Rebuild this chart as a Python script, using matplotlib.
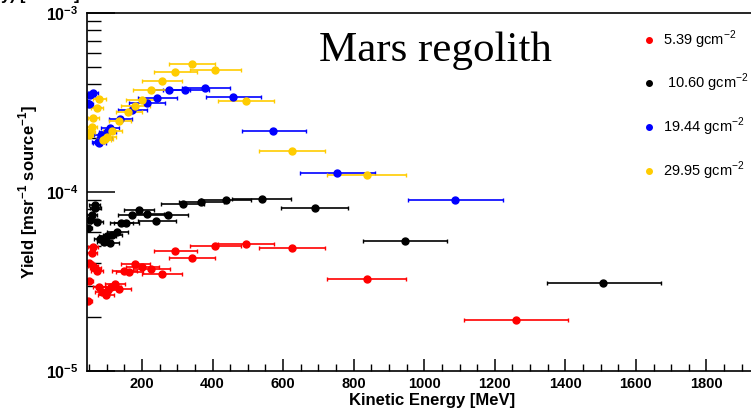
import numpy as np
import matplotlib
matplotlib.use("Agg")
import matplotlib.pyplot as plt
from matplotlib.ticker import MultipleLocator, FixedLocator, LogLocator, NullFormatter

plt.rcParams['font.family'] = ['Liberation Sans', 'DejaVu Sans']

# 5.39 g/cm2 (red)
e_red = [1259, 838, 625, 494, 407, 342, 293, 257, 225, 200, 180, 163, 149, 135,
         123, 112, 104, 97, 86, 78, 72, 67, 61, 61, 58, 50, 50, 47]
y_red = [1.93e-5, 3.27e-5, 4.87e-5, 5.13e-5, 4.99e-5, 4.28e-5, 4.68e-5, 3.48e-5,
         3.71e-5, 3.81e-5, 3.96e-5, 3.57e-5, 3.62e-5, 2.87e-5, 3.06e-5, 2.94e-5,
         2.85e-5, 2.66e-5, 2.76e-5, 2.94e-5, 3.62e-5, 3.76e-5, 3.86e-5, 4.93e-5,
         4.56e-5, 4.00e-5, 3.18e-5, 2.46e-5]
lo_red = [147, 114, 94, 79, 71, 65, 59, 57, 50, 45, 40, 38, 33, 30,
          28, 25, 23, 22, 19, 17, 16, 15, 14, 14, 13, 11, 11, 10]
hi_red = [148, 110, 93, 80, 73, 65, 63, 56, 54, 48, 44, 40, 37, 33,
          30, 28, 25, 24, 21, 19, 18, 16, 15, 15, 14, 12, 12, 11]

# 10.60 g/cm2 (black)
e_blk = [1508, 946, 690, 540, 438, 367, 315, 273, 240, 213, 190, 171, 155, 141,
         129, 115, 109, 101, 92, 81, 72, 66, 67, 58, 53, 47]
y_blk = [3.10e-5, 5.32e-5, 8.14e-5, 9.14e-5, 9.02e-5, 8.79e-5, 8.57e-5, 7.44e-5,
         6.89e-5, 7.58e-5, 7.94e-5, 7.44e-5, 6.71e-5, 6.71e-5, 5.98e-5, 5.75e-5,
         5.19e-5, 5.65e-5, 5.26e-5, 5.46e-5, 6.79e-5, 8.45e-5, 8.13e-5, 7.44e-5,
         6.95e-5, 6.30e-5]
lo_blk = [161, 120, 95, 85, 72, 63, 61, 57, 52, 48, 42, 38, 34, 31,
          29, 26, 24, 22, 20, 18, 16, 15, 15, 13, 12, 10]
hi_blk = [162, 118, 94, 82, 72, 65, 62, 58, 55, 50, 45, 40, 37, 33,
          31, 28, 26, 24, 22, 19, 17, 16, 16, 14, 13, 11]

# 19.44 g/cm2 (blue)
e_blu = [1087, 752, 571, 458, 379, 322, 277, 242, 214, 172, 138, 109, 100, 92,
         84, 78, 75, 61, 53, 50, 45]
y_blu = [9.02e-5, 1.28e-4, 2.19e-4, 3.40e-4, 3.81e-4, 3.71e-4, 3.71e-4, 3.35e-4,
         3.14e-4, 2.87e-4, 2.56e-4, 2.28e-4, 2.16e-4, 2.00e-4, 2.09e-4, 1.88e-4,
         1.90e-4, 3.57e-4, 3.48e-4, 3.10e-4, 3.14e-4]
lo_blu = [133, 104, 87, 77, 66, 63, 58, 53, 50, 40, 32, 25, 23, 21,
          19, 17, 17, 14, 12, 11, 10]
hi_blu = [136, 108, 94, 79, 70, 67, 60, 56, 52, 42, 34, 27, 25, 23,
          21, 19, 18, 15, 13, 12, 11]

# 29.95 g/cm2 (yellow)
e_yel = [838, 625, 494, 407, 342, 293, 257, 225, 200, 180, 161, 135, 115, 100,
         95, 90, 78, 72, 62, 58, 53, 50]
y_yel = [1.245e-4, 1.70e-4, 3.23e-4, 4.80e-4, 5.19e-4, 4.68e-4, 4.17e-4, 3.71e-4,
         3.27e-4, 3.02e-4, 2.80e-4, 2.49e-4, 2.19e-4, 2.02e-4, 1.98e-4, 1.95e-4,
         3.31e-4, 2.95e-4, 2.59e-4, 2.31e-4, 2.16e-4, 2.09e-4]
lo_yel = [114, 94, 79, 71, 65, 59, 57, 50, 45, 40, 36, 30, 26, 23,
          21, 20, 17, 16, 14, 13, 12, 11]
hi_yel = [110, 93, 80, 73, 65, 63, 56, 54, 48, 44, 39, 33, 28, 25,
          23, 22, 19, 18, 15, 14, 13, 12]

labels = ['5.39 gcm$^{\\mathdefault{-2}}$', ' 10.60 gcm$^{\\mathdefault{-2}}$',
          '19.44 gcm$^{\\mathdefault{-2}}$', '29.95 gcm$^{\\mathdefault{-2}}$']
colors = ['#ff0000', '#000000', '#0000ff', '#ffcc00']
x_ticks = [200, 400, 600, 800, 1000, 1200, 1400, 1600, 1800]

W, H = 751, 415
fig = plt.figure(figsize=(W / 100, H / 100), dpi=100)
ax = fig.add_axes([87 / W, 1 - 371 / H, (777 - 87) / W, (371 - 13) / H])

series = [(e_red, y_red, lo_red, hi_red), (e_blk, y_blk, lo_blk, hi_blk),
          (e_blu, y_blu, lo_blu, hi_blu), (e_yel, y_yel, lo_yel, hi_yel)]
for (e, y, lo, hi), c in zip(series, colors):
    ax.errorbar(e, y, xerr=[lo, hi], fmt='o', color=c, ms=5, elinewidth=1.2,
                capsize=1.5, capthick=1)

ax.set_yscale('log')
ax.set_xlim(44, 2000)
ax.set_ylim(1e-5, 1e-3)
ax.xaxis.set_major_locator(FixedLocator(x_ticks))
ax.xaxis.set_minor_locator(MultipleLocator(50))
ax.yaxis.set_major_locator(LogLocator(base=10))
ax.yaxis.set_minor_locator(LogLocator(base=10, subs=np.arange(2, 10)))
ax.yaxis.set_minor_formatter(NullFormatter())

ax.tick_params(axis='x', which='major', direction='in', length=9, width=1.1,
               labelsize=10.5, pad=4)
ax.tick_params(axis='x', which='minor', direction='in', length=5, width=1.0)
ax.tick_params(axis='y', which='major', direction='in', length=20, width=1.1,
               labelsize=11.5, pad=6)
ax.tick_params(axis='y', which='minor', direction='in', length=10, width=1.0)
ax.tick_params(top=False, right=False, which='both')
for lab in ax.get_xticklabels() + ax.get_yticklabels():
    lab.set_fontweight('bold')
for s in ax.spines.values():
    s.set_linewidth(1.2)

ax.set_xlabel('Kinetic Energy [MeV]', fontsize=12, fontweight='bold', labelpad=2)
ax.set_ylabel('Yield [msr$^{\\mathdefault{-1}}$ source$^{\\mathdefault{-1}}$]',
              fontsize=12, fontweight='bold', labelpad=4)

fig.text(319 / W, 1 - 61 / H, 'Mars regolith', family='Liberation Serif',
         fontsize=31, va='baseline')

# legend drawn by hand
leg_y = [40, 83, 127, 171]
for lab, c, yy in zip(labels, colors, leg_y):
    fig.lines.append(plt.Line2D([649 / W], [1 - yy / H], marker='o', ms=4,
                                color=c, transform=fig.transFigure))
    fig.text(663 / W, 1 - yy / H, lab, fontsize=10.5, va='center')

# label of the panel above, cut off by the top edge as in the source image
fig.text(80 / W, 1.0, 'Energy) [MeV$^{\\mathdefault{-1}}$]', fontsize=12,
         fontweight='bold', ha='right', va='baseline')

fig.savefig('out.png', dpi=100)
